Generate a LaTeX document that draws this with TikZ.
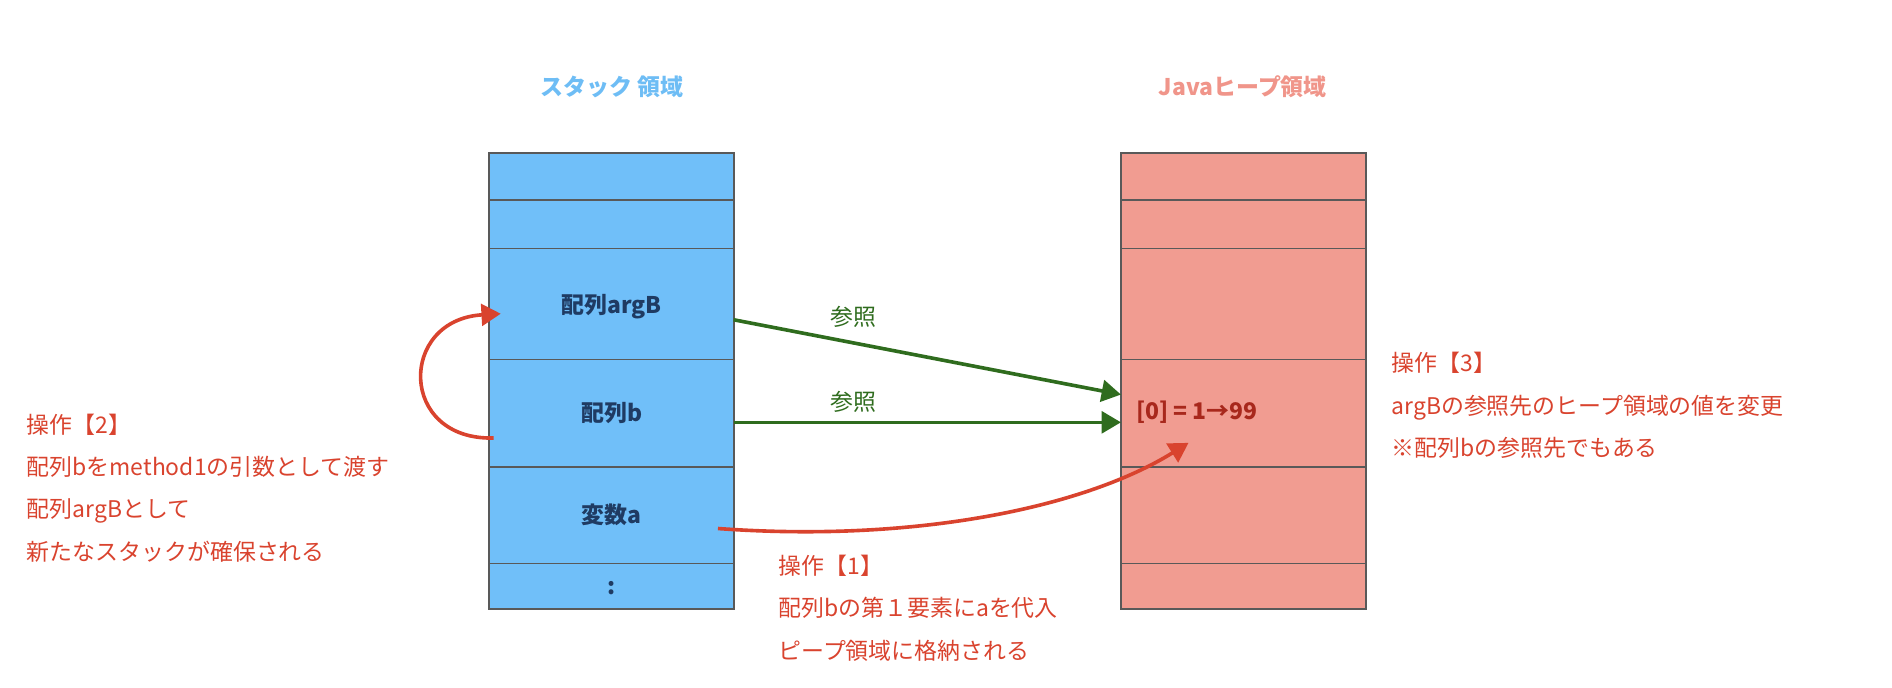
\documentclass[tikz,border=0pt]{standalone}
\usepackage{fontspec}
\setmainfont{Noto Sans CJK JP}
\newfontfamily\jpb{Noto Sans CJK JP}
\usetikzlibrary{arrows.meta}
\definecolor{sfill}{HTML}{70BFF9}
\definecolor{hfill}{HTML}{F19C91}
\definecolor{stitle}{HTML}{6EBDF5}
\definecolor{htitle}{HTML}{F0958A}
\definecolor{navy}{HTML}{1F3B63}
\definecolor{grn}{HTML}{2F6C1E}
\definecolor{rd}{HTML}{D9432E}
\definecolor{drd}{HTML}{A8281C}
\begin{document}
\begin{tikzpicture}[x=1pt,y=-1pt,
  txt/.style={font=\fontsize{19}{22}\selectfont},
  cell/.style={draw=black!65,line width=1.5pt},
  grnarrow/.style={draw=grn,line width=3pt,-{Triangle[length=16pt,width=18pt]}},
  rdarrow/.style={draw=rd,line width=3pt,-{Triangle[length=16pt,width=18pt]}}]
\useasboundingbox (0,0) rectangle (1568,570);
\foreach \x/\f in {405/sfill,929/hfill}{
  \fill[\f] (\x,127) rectangle (\x+203,505);
  \foreach \y in {166,206,298,387,467}{\draw[cell] (\x,\y) -- (\x+203,\y);}
  \draw[cell] (\x,127) rectangle (\x+203,505);
}
\node[txt,text=stitle,font=\bfseries\fontsize{19}{22}\selectfont] (t1) at (507,72) {スタック 領域};
\node[txt,text=htitle,font=\bfseries\fontsize{19}{22}\selectfont] (t2) at (1030,72) {Javaヒープ領域};
\node[txt,text=navy,font=\bfseries\fontsize{19}{22}\selectfont] (argB) at (507,254) {配列argB};
\node[txt,text=navy,font=\bfseries\fontsize{19}{22}\selectfont] (b) at (507,342) {配列b};
\node[txt,text=navy,font=\bfseries\fontsize{19}{22}\selectfont] (a) at (507,427) {変数a};
\node[txt,text=navy,font=\bfseries\fontsize{19}{22}\selectfont] (dots) at (507,487) {:};
\node[txt,text=drd,font=\bfseries\fontsize{19}{22}\selectfont,anchor=west] (v) at (938,342) {[0] = 1→99};
\coordinate (s1) at (608,265); \coordinate (e1) at (929,327);
\coordinate (s2) at (608,350); \coordinate (e2) at (929,350);
\draw[grnarrow] (s1) -- (e1);
\draw[grnarrow] (s2) -- (e2);
\node[txt,text=grn] (r1) at (707,263) {参照};
\node[txt,text=grn] (r2) at (707,333) {参照};
\coordinate (as) at (595,438); \coordinate (ae) at (985,367);
\draw[rdarrow] (as) .. controls (760,450) and (900,420) .. (ae);
\coordinate (ls) at (409,363); \coordinate (le) at (415,260);
\draw[rdarrow] (ls) .. controls (330,365) and (330,265) .. (le);
\node[txt,text=rd,anchor=north west,align=left,inner sep=0pt] (op2) at (22,343) {操作【2】\\[13pt]配列bをmethod1の引数として渡す\\[13pt]配列argBとして\\[13pt]新たなスタックが確保される};
\node[txt,text=rd,anchor=north west,align=left,inner sep=0pt] (op1) at (645,460) {操作【1】\\[13pt]配列bの第１要素にaを代入\\[13pt]ピープ領域に格納される};
\node[txt,text=rd,anchor=north west,align=left,inner sep=0pt] (op3) at (1153,292) {操作【3】\\[13pt]argBの参照先のヒープ領域の値を変更\\[13pt]※配列bの参照先でもある};
\end{tikzpicture}
\end{document}
